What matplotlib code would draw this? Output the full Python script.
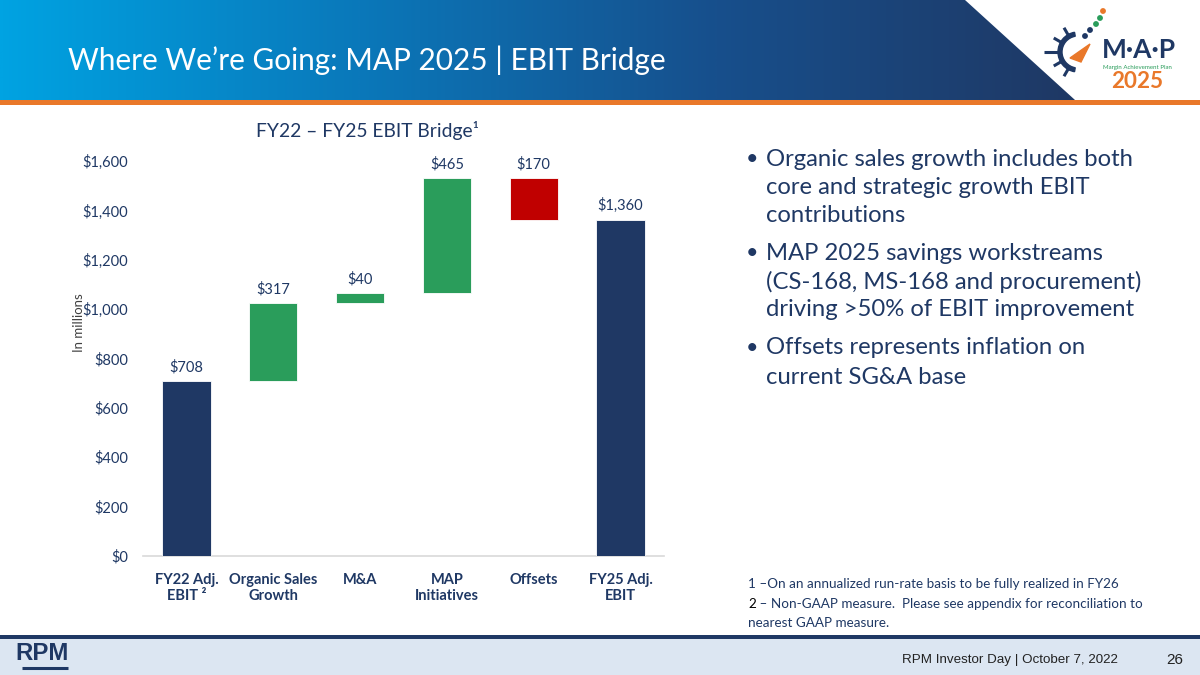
import matplotlib
matplotlib.use("Agg")
import matplotlib.pyplot as plt
import numpy as np
from matplotlib.patches import Polygon, Rectangle, Wedge, Circle
from matplotlib.colors import LinearSegmentedColormap

# ---------------- data ----------------
categories = ["FY22 Adj.\nEBIT ²", "Organic Sales\nGrowth", "M&A", "MAP\nInitiatives", "Offsets", "FY25 Adj.\nEBIT"]
changes = [708, 317, 40, 465, -170, 1360]
kinds = ["total", "increase", "increase", "increase", "decrease", "total"]
value_labels = ["$708", "$317", "$40", "$465", "$170", "$1,360"]
y_ticks = [0, 200, 400, 600, 800, 1000, 1200, 1400, 1600]
y_tick_labels = ["$0", "$200", "$400", "$600", "$800", "$1,000", "$1,200", "$1,400", "$1,600"]
chart_title = "FY22 – FY25 EBIT Bridge¹"
slide_title = "Where We’re Going: MAP 2025 | EBIT Bridge"
bullets = [
    ["Organic sales growth includes both", "core and strategic growth EBIT", "contributions"],
    ["MAP 2025 savings workstreams", "(CS-168, MS-168 and procurement)", "driving >50% of EBIT improvement"],
    ["Offsets represents inflation on", "current SG&A base"],
]
footnote1 = "1 –On an annualized run-rate basis to be fully realized in FY26"
footnote2 = " – Non-GAAP measure.  Please see appendix for reconciliation to"
footnote3 = "nearest GAAP measure."
footer_text = "RPM Investor Day | October 7, 2022"
page_no = "26"

NAVY = "#1F3864"
GREEN = "#2A9D5B"
RED = "#C00000"
FONT = ["Lato", "DejaVu Sans"]
plt.rcParams["font.family"] = FONT

fig = plt.figure(figsize=(12, 6.75), dpi=100)
renderer = fig.canvas.get_renderer()

def fit(t, width):
    bb = t.get_window_extent(renderer=renderer)
    t.set_fontsize(t.get_fontsize() * width / bb.width)
    return t.get_fontsize()

# ---------------- background layer (pixel coords) ----------------
bg = fig.add_axes([0, 0, 1, 1])
bg.set_xlim(0, 1200)
bg.set_ylim(675, 0)
bg.axis("off")

cmap = LinearSegmentedColormap.from_list("hdr", ["#00A3E2", "#0A78BA", "#174F8C", "#1F3864"])
grad = np.linspace(0, 1, 512).reshape(1, -1)
im = bg.imshow(grad, cmap=cmap, extent=[0, 1075, 100, 0], aspect="auto", zorder=1)
clip = Polygon([(0, 0), (965, 0), (1075, 100), (0, 100)], closed=True, transform=bg.transData)
im.set_clip_path(clip)
bg.add_patch(Rectangle((0, 100), 1200, 4.5, color="#E9782A", zorder=2, lw=0))

t = bg.text(68, 60, slide_title, color="white", fontsize=24, va="center", ha="left", zorder=3)
fit(t, 598)

# MAP logo (approximation)
bg.add_patch(Wedge((1078, 52), 20, 100, 260, width=4, color=NAVY, zorder=3))
for ang in [120, 150, 180, 210, 240]:
    a = np.deg2rad(ang)
    L = 34 if ang == 180 else 28
    bg.plot([1078 + 18 * np.cos(a), 1078 + L * np.cos(a)], [52 - 18 * np.sin(a), 52 - L * np.sin(a)],
            color=NAVY, lw=2.2, zorder=3, solid_capstyle="butt")
bg.add_patch(Polygon([(1070, 58), (1090, 44), (1081, 62)], closed=True, color="#E9782A", zorder=3))
for (x, y, c) in [(1090, 30, NAVY), (1096, 24, GREEN), (1100, 18, GREEN), (1103, 11, "#E9782A"), (1085, 36, NAVY)]:
    bg.add_patch(Circle((x, y), 2.2, color=c, zorder=3))
t = bg.text(1139, 50, "M·A·P", color=NAVY, fontsize=22, fontweight="bold", ha="center", va="center", zorder=3)
fit(t, 74)
t = bg.text(1137, 67, "Margin Achievement Plan", color=GREEN, fontsize=5, ha="center", va="center", zorder=3)
fit(t, 70)
t = bg.text(1137, 81, "2025", color="#E9782A", fontsize=16, fontweight="bold", ha="center", va="center", zorder=3)
fit(t, 52)

# footer
bg.add_patch(Rectangle((0, 634.5), 1200, 4, color=NAVY, lw=0, zorder=2))
bg.add_patch(Rectangle((0, 638.5), 1200, 37, color="#DCE6F2", lw=0, zorder=1))
t = bg.text(15, 653, "RPM", color=NAVY, fontsize=14, fontweight="bold", ha="left", va="center",
            family=["Liberation Sans Narrow", "Liberation Sans", "DejaVu Sans"], zorder=3)
fit(t, 53)
bg.plot([22, 68], [668, 668], color=NAVY, lw=2.2, zorder=3, solid_capstyle="butt")
t = bg.text(1118, 660, footer_text, color="#222222", fontsize=11, ha="right", va="center",
            family=["Liberation Sans", "DejaVu Sans"], zorder=3)
fit(t, 214)
bg.text(1175, 660, page_no, color="#222222", fontsize=11, ha="center", va="center",
        family=["Liberation Sans", "DejaVu Sans"], zorder=3)

# chart title
t = bg.text(368, 131, chart_title, color=NAVY, fontsize=13, ha="center", va="center", zorder=3)
fit(t, 222)

# y-label
bg.text(79, 323, "In millions", color="#404040", fontsize=9.5, rotation=90, ha="center", va="center")

# bullets
probe = bg.text(0, 0, bullets[1][1], fontsize=20)
bsize = fit(probe, 376)
probe.remove()
line_y = [[159, 187, 215], [253, 282, 310], [348, 377]]
for group, ys in zip(bullets, line_y):
    bg.text(752, ys[0], "•", color=NAVY, fontsize=bsize * 0.9, ha="center", va="center")
    for line, y in zip(group, ys):
        bg.text(766, y, line, color=NAVY, fontsize=bsize, ha="left", va="center")

# footnotes
fsz = 10.5
t = bg.text(748, 584, footnote1, color=NAVY, fontsize=fsz, ha="left", va="center")
fsz = fit(t, 373)
t2 = bg.text(748, 604, "2", color="black", fontsize=fsz, ha="left", va="center")
w2 = t2.get_window_extent(renderer=renderer).width
bg.text(748 + w2, 604, footnote2, color=NAVY, fontsize=fsz, ha="left", va="center")
bg.text(748, 623, footnote3, color=NAVY, fontsize=fsz, ha="left", va="center")

# ---------------- waterfall chart ----------------
ax = fig.add_axes([143 / 1200, (675 - 556) / 675, 521 / 1200, 395 / 675])
ax.set_facecolor("none")
x = np.arange(len(categories))
bottoms, heights, colors = [], [], []
running = 0
for v, k in zip(changes, kinds):
    if k == "total":
        bottoms.append(0); heights.append(v); colors.append(NAVY); running = v
    elif k == "increase":
        bottoms.append(running); heights.append(v); colors.append(GREEN); running += v
    else:
        bottoms.append(running + v); heights.append(-v); colors.append(RED); running += v
ax.bar(x, heights, bottom=bottoms, width=0.555, color=colors, edgecolor="white", linewidth=0.6, zorder=3)
for xi, b, h, lab in zip(x, bottoms, heights, value_labels):
    ax.annotate(lab, (xi, b + h), xytext=(0, 5), textcoords="offset points", ha="center", va="bottom",
                color=NAVY, fontsize=10.5)
ax.set_xlim(-0.5, len(categories) - 0.5)
ax.set_ylim(0, 1600)
ax.set_yticks(y_ticks)
ax.set_yticklabels(y_tick_labels, color=NAVY, fontsize=10.5)
ax.set_xticks(x)
ax.set_xticklabels(categories, color=NAVY, fontsize=10.5, fontweight="bold", linespacing=1.25, va="top")
ax.tick_params(axis="both", length=0)
ax.tick_params(axis="y", pad=10.5)
ax.tick_params(axis="x", pad=12)
for s in ["top", "right", "left"]:
    ax.spines[s].set_visible(False)
ax.spines["bottom"].set_color("#D9D9D9")
ax.spines["bottom"].set_linewidth(1.2)

fig.savefig("out.png", dpi=100)
